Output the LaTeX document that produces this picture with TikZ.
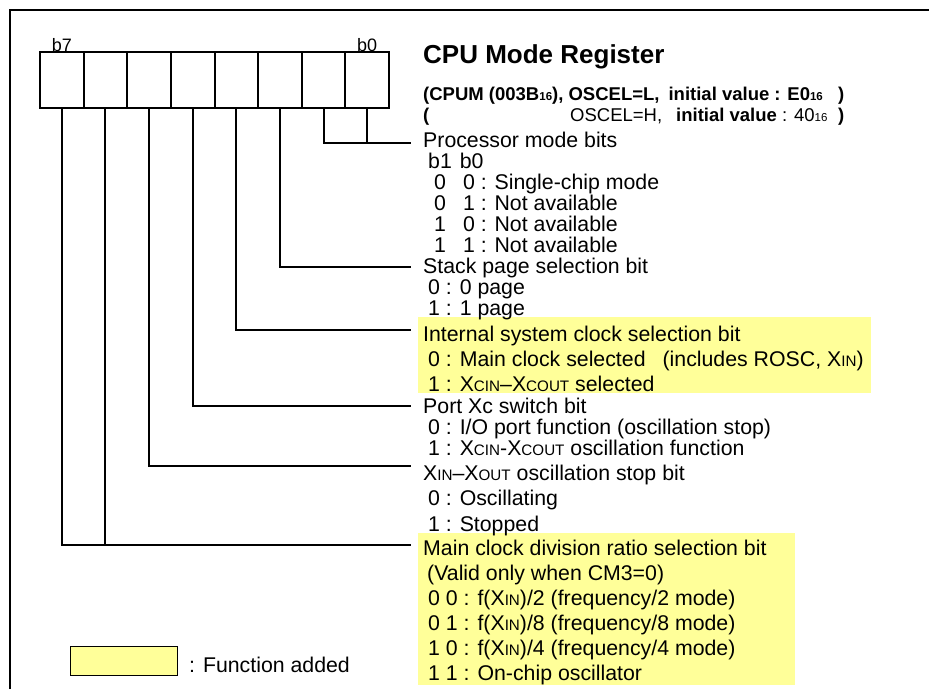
\documentclass[tikz,border=0pt]{standalone}
\usepackage{fontspec}
\setmainfont{Liberation Sans}
\definecolor{hl}{HTML}{FFFF99}
% reduced capitals used in signal names such as X_IN, X_CIN
\newcommand{\sig}[1]{{\fontsize{15.2}{15.2}\selectfont #1}}
% small radix suffix in the title lines
\newcommand{\radix}[1]{{\fontsize{11.5}{11.5}\selectfont #1}}
\tikzset{
  frame/.style={line width=2.8pt},
  cell/.style={draw, line width=2pt, minimum width=43.625pt, minimum height=55.5pt, inner sep=0pt},
  lead/.style={line width=2pt},
  txt/.style={anchor=base west, inner sep=0pt, font=\fontsize{21.3}{21.3}\selectfont},
  bitlbl/.style={anchor=base, inner sep=0pt, font=\fontsize{18}{18}\selectfont},
  hlbox/.style={fill=hl, draw=none},
  head/.style={anchor=base west, inner sep=0pt, font=\fontsize{18.5}{18.5}\selectfont}
}
\begin{document}
\begin{tikzpicture}[x=1pt, y=-1pt]
\useasboundingbox (0,0) rectangle (929,689);

% outer frame (top and left edges)
\draw[frame] (10,689) -- (10,10) -- (929,10);

% highlighted rows
\fill[hlbox] (418,317) rectangle (871,393);
\fill[hlbox] (418,533) rectangle (795,685);

% register cells b7 ... b0
\foreach \i in {0,...,7} {
  \node[cell] (c\i) at ({40+(7-\i)*43.625+21.8125}, 79.75) {};
}
\node[bitlbl] (lb7) at (c7.north |- 0,51) {b7};
\node[bitlbl] (lb0) at (c0.north |- 0,51) {b0};

% title
\node[anchor=base west, inner sep=0pt, font=\fontsize{26}{26}\selectfont\bfseries] (title) at (423,63) {CPU Mode Register};
\node[head, font=\fontsize{18.5}{18.5}\selectfont\bfseries] (sub1) at (423,100)
  {(CPUM (003B\radix{16}), OSCEL=L,\hspace{9pt}initial value : E0\radix{16}};
\node[head, font=\fontsize{18.5}{18.5}\selectfont\bfseries] (sub1r) at (838,100) {)};
\node[head, font=\fontsize{18.5}{18.5}\selectfont\bfseries] (sub2l) at (423,121) {(};
\node[head] (sub2) at (570,121)
  {OSCEL=H,\hspace{14pt}\textbf{initial value} : 40\radix{16}};
\node[head, font=\fontsize{18.5}{18.5}\selectfont\bfseries] (sub2r) at (838,121) {)};

% bit descriptions
\node[txt] (pm)  at (423,147.5) {Processor mode bits};
\node[txt] (pm0) at (428,168.5) {b1\hspace{8pt}b0};
\node[txt] (pm1) at (434,189.5) {0\hspace{17pt}0 : Single-chip mode};
\node[txt] (pm2) at (434,210.5) {0\hspace{17pt}1 : Not available};
\node[txt] (pm3) at (434,231.5) {1\hspace{17pt}0 : Not available};
\node[txt] (pm4) at (434,252)   {1\hspace{17pt}1 : Not available};

\node[txt] (sp)  at (423,273) {Stack page selection bit};
\node[txt] (sp1) at (428,294) {0 : 0 page};
\node[txt] (sp2) at (428,315) {1 : 1 page};

\node[txt] (ic)  at (423,341)   {Internal system clock selection bit};
\node[txt] (ic1) at (428,366)   {0 : Main clock selected\hspace{17pt}(includes ROSC, X\sig{IN})};
\node[txt] (ic2) at (428,391.5) {1 : X\sig{CIN}--X\sig{COUT} selected};

\node[txt] (px)  at (423,413)   {Port Xc switch bit};
\node[txt] (px1) at (428,434.5) {0 : I/O port function (oscillation stop)};
\node[txt] (px2) at (428,455.5) {1 : X\sig{CIN}-X\sig{COUT} oscillation function};

\node[txt] (os)  at (423,480.5) {X\sig{IN}--X\sig{OUT} oscillation stop bit};
\node[txt] (os1) at (428,505)   {0 : Oscillating};
\node[txt] (os2) at (428,531)   {1 : Stopped};

\node[txt] (md)  at (423,555) {Main clock division ratio selection bit};
\node[txt] (md0) at (427,580) {(Valid only when CM3=0)};
\node[txt] (md1) at (428,605) {0 0 : f(X\sig{IN})/2 (frequency/2 mode)};
\node[txt] (md2) at (428,630) {0 1 : f(X\sig{IN})/8 (frequency/8 mode)};
\node[txt] (md3) at (428,655) {1 0 : f(X\sig{IN})/4 (frequency/4 mode)};
\node[txt] (md4) at (428,680) {1 1 : On-chip oscillator};

% leader ends
\coordinate (epm) at (411,143);
\coordinate (esp) at (411,267);
\coordinate (eic) at (411,330);
\coordinate (epx) at (411,406);
\coordinate (eos) at (411,466);
\coordinate (emd) at (411,545);

% leaders from the bits to their descriptions
\draw[lead] (c0.south) -- (c0.south |- epm);
\draw[lead] (c1.south) |- (epm);
\draw[lead] (c2.south) |- (esp);
\draw[lead] (c3.south) |- (eic);
\draw[lead] (c4.south) |- (epx);
\draw[lead] (c5.south) |- (eos);
\draw[lead] (c6.south) -- (c6.south |- emd);
\draw[lead] (c7.south) |- (emd);

% legend
\node[draw, line width=1pt, fill=hl, minimum width=107pt, minimum height=29pt, inner sep=0pt] (key) at (123.5,660.5) {};
\node[txt] (keytxt) at (189,672) {: Function added};
\end{tikzpicture}
\end{document}
